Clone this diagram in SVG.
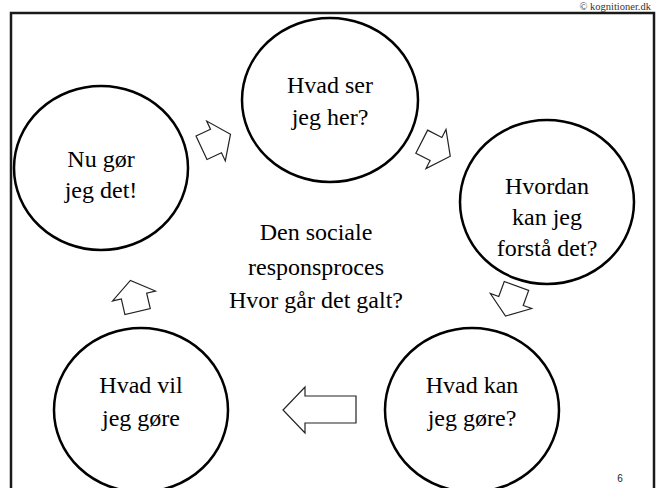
<svg xmlns="http://www.w3.org/2000/svg" width="664" height="488" viewBox="0 0 664 488">
<defs>
<style>
.frame{fill:none;stroke:#1a1a1a;stroke-width:2.5}
.node ellipse{fill:#fff;stroke:#000;stroke-width:2.5}
.lbl{font-family:"Liberation Serif","Times New Roman",serif;font-size:24px;fill:#000;text-anchor:middle}
.arr{fill:#fff;stroke:#222;stroke-width:1.2;stroke-linejoin:miter}
.copy{font-family:"Liberation Serif","Times New Roman",serif;font-size:10.5px;fill:#333;text-anchor:end}
.num{font-family:"Liberation Sans",Arial,sans-serif;font-size:10px;fill:#222;text-anchor:middle}
</style>
<path id="sa" d="M-16,-13 H0 V-22 L16,0 L0,22 V13 H-16 Z"/>
</defs>
<rect width="664" height="488" fill="#fff"/>
<rect class="frame" x="11" y="13" width="643" height="500"/>
<text class="copy" x="651" y="10">© kognitioner.dk</text>
<text class="num" x="620" y="482">6</text>

<g id="connectors">
<use href="#sa" class="arr" transform="translate(216,141) rotate(-25)"/>
<use href="#sa" class="arr" transform="translate(436,149) rotate(27)"/>
<use href="#sa" class="arr" transform="translate(511,301) rotate(110)"/>
<path class="arr" d="M356,396 H305 V387 L283,410 L305,433 V423 H356 Z"/>
<use href="#sa" class="arr" transform="translate(134,296) rotate(-103)"/>
</g>

<g id="n1" class="node">
<ellipse cx="330" cy="100" rx="88" ry="82"/>
<text class="lbl" x="330" y="93">Hvad ser</text>
<text class="lbl" x="330" y="125">jeg her?</text>
</g>
<g id="n2" class="node">
<ellipse cx="101" cy="168" rx="87" ry="82"/>
<text class="lbl" x="101" y="167">Nu gør</text>
<text class="lbl" x="101" y="198">jeg det!</text>
</g>
<g id="n3" class="node">
<ellipse cx="547" cy="202" rx="87" ry="82"/>
<text class="lbl" x="547" y="194">Hvordan</text>
<text class="lbl" x="547" y="225">kan jeg</text>
<text class="lbl" x="547" y="256">forstå det?</text>
</g>
<g id="n4" class="node">
<ellipse cx="472" cy="410" rx="87" ry="82"/>
<text class="lbl" x="472" y="393">Hvad kan</text>
<text class="lbl" x="472" y="426">jeg gøre?</text>
</g>
<g id="n5" class="node">
<ellipse cx="141" cy="410" rx="87" ry="82"/>
<text class="lbl" x="141" y="393">Hvad vil</text>
<text class="lbl" x="141" y="426">jeg gøre</text>
</g>
<g id="center">
<text class="lbl" x="316" y="240">Den sociale</text>
<text class="lbl" x="316" y="275">responsproces</text>
<text class="lbl" x="316" y="308">Hvor går det galt?</text>
</g>
</svg>
